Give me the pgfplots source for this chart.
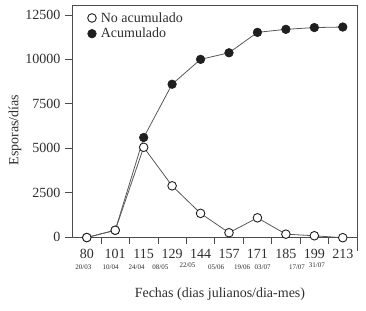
\documentclass[border=0pt]{standalone}
\usepackage{pgfplots}
\pgfplotsset{compat=1.18}
\usepackage{fontspec}
\setmainfont{Liberation Serif}
\definecolor{txt}{gray}{0.18}
\definecolor{linecol}{gray}{0.35}
\definecolor{axcol}{gray}{0.3}
\definecolor{dotcol}{gray}{0.12}
\begin{document}
\begin{tikzpicture}
\begin{axis}[
  scale only axis,
  width=285pt, height=232pt,
  xmin=-0.52, xmax=9.5,
  ymin=0, ymax=13060,
  clip=false,
  axis line style={axcol, line width=0.7pt},
  tick style={axcol, line width=0.7pt},
  major tick length=7pt,
  tick align=outside,
  xtick pos=bottom, ytick pos=left,
  xtick={0.5,1.5,...,8.5},
  xticklabels={},
  extra x ticks={0,1,2,3,4,5,6,7,8,9},
  extra x tick labels={80,101,115,129,144,157,171,185,199,213},
  extra x tick style={major tick length=0pt,
    tick label style={anchor=base, yshift=-21.5pt}},
  ytick={0,2500,5000,7500,10000,12500},
  scaled y ticks=false,
  /pgf/number format/1000 sep={},
  /pgf/number format/assume math mode=true,
  tick label style={font=\fontsize{14}{16}\selectfont, text=txt},
  yticklabel style={xshift=-1pt},
  ylabel={Esporas/días},
  ylabel style={at={(rel axis cs:0,0.461)}, anchor=center, yshift=57pt, font=\fontsize{14}{16}\selectfont, text=txt},
  xlabel={Fechas (dias julianos/dia-mes)},
  xlabel style={at={(rel axis cs:0.519,0)}, anchor=center, yshift=-57pt, font=\fontsize{14}{16}\selectfont, text=txt},
  legend style={at={(rel axis cs:0.0,0.982)}, anchor=north west, draw=none, fill=none,
    font=\fontsize{14}{16}\selectfont, text=txt, row sep=0.5pt, inner sep=1pt},
  legend cell align=left,
  reverse legend,
  legend image code/.code={\path[draw=none] (0,0) -- (0.9cm,0); \draw[#1, only marks] plot coordinates {(0.66cm,0cm)};},
]
\addplot[linecol, line width=0.8pt, mark=*, mark size=4.3pt,
  mark options={draw=dotcol, fill=dotcol, line width=0.6pt}]
  coordinates {(0,-30) (1,380) (2,5600) (3,8600) (4,10000) (5,10370) (6,11520) (7,11690) (8,11790) (9,11820)};
\addlegendentry{Acumulado}
\addplot[linecol, line width=0.8pt, mark=*, mark size=4.3pt,
  mark options={draw=dotcol, fill=white, line width=0.9pt}]
  coordinates {(0,-30) (1,380) (2,5050) (3,2880) (4,1330) (5,240) (6,1080) (7,160) (8,70) (9,-40)};
\addlegendentry{No acumulado}
\draw[axcol, line width=0.7pt] (rel axis cs:1,0) -- ++(0pt,-14pt);
\begin{scope}[every node/.style={font=\fontsize{7}{8}\selectfont, text=txt, anchor=base, inner sep=0pt}]
\node[yshift=-32.5pt] at (axis cs:-0.12,0) {20/03};
\node[yshift=-32.5pt] at (axis cs:0.84,0) {10/04};
\node[yshift=-32.5pt] at (axis cs:1.75,0) {24/04};
\node[yshift=-32.5pt] at (axis cs:2.59,0) {08/05};
\node[yshift=-30.5pt] at (axis cs:3.54,0) {22/05};
\node[yshift=-32.5pt] at (axis cs:4.55,0) {05/06};
\node[yshift=-32.5pt] at (axis cs:5.46,0) {19/06};
\node[yshift=-32.5pt] at (axis cs:6.18,0) {03/07};
\node[yshift=-32.5pt] at (axis cs:7.39,0) {17/07};
\node[yshift=-30.5pt] at (axis cs:8.09,0) {31/07};
\end{scope}
\end{axis}
\path ([shift={(-72pt,-73pt)}]current axis.south west) rectangle ([shift={(9pt,5pt)}]current axis.north east);
\end{tikzpicture}
\end{document}
